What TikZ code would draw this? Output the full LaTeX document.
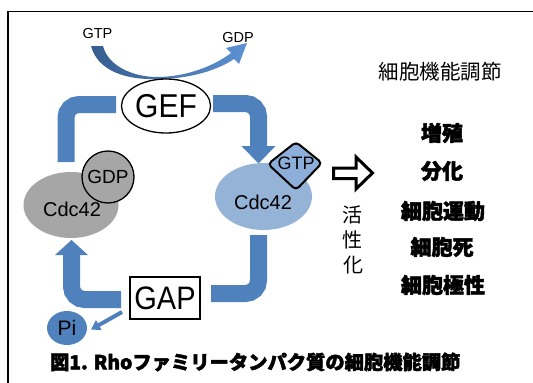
\documentclass[tikz,border=0pt]{standalone}
\usepackage{fontspec}
\setmainfont{Liberation Sans}
\newfontfamily\jp{Noto Sans CJK JP}
\newfontfamily\jpheavy[UprightFeatures={FakeBold=2.2}, BoldFeatures={FakeBold=2.2}]{Noto Sans CJK JP}
\usetikzlibrary{shapes.geometric, arrows.meta}
\definecolor{band}{HTML}{4F81BD}
\definecolor{grayfill}{HTML}{A6A6A6}
\definecolor{lightblue}{HTML}{95B3D7}
\definecolor{gtpblue}{HTML}{8EAEDA}
\definecolor{curvedark}{HTML}{365D8F}
\definecolor{curvelight}{HTML}{5D91D2}
\newcommand{\fs}[1]{\fontsize{#1}{#1}\selectfont}
\begin{document}
\begin{tikzpicture}[x=1pt,y=-1pt,
  bandline/.style={line width=17pt, draw=band, rounded corners=13pt},
  bandhead/.style={fill=band},
  piarrow/.style={line width=4pt, draw=band, -{Triangle[length=9pt, width=11pt]}},
  plain/.style={inner sep=0pt, outer sep=0pt},
  jpreg/.style={plain, font=\jp\fs{20.5}},
  jpbold/.style={plain, font=\jpheavy\bfseries\fs{21}}]
\useasboundingbox (0,0) rectangle (533,383);
% frame
\draw[line width=1.5pt] (8,383) -- (8,11.5) -- (533,11.5);

% GTP -> GDP curved arrow
\node[plain, font=\fs{14.5}] (gtptop) at (97.5,34) {GTP};
\node[plain, font=\fs{14.5}] (gdptop) at (238,37.5) {GDP};
\shade[left color=curvedark, right color=curvelight]
  (91,46) .. controls (98,72) and (128,80) .. (157,79)
  .. controls (190,79) and (218,70) .. (234,59) -- (239,64) -- (247,43) -- (226,48) -- (231,53)
  .. controls (214,66) and (186,77) .. (157,77)
  .. controls (133,77) and (108,66) .. (103,46) -- cycle;

% blue cycle bands
\coordinate (b1s) at (116,104.5); \coordinate (b1c) at (66,104.5); \coordinate (b1e) at (66,162);
\draw[bandline] (b1s) -- (b1c) -- (b1e);
\coordinate (b2s) at (213,103.5); \coordinate (b2c) at (258.5,103.5); \coordinate (b2e) at (258.5,147);
\draw[bandline] (b2s) -- (b2c) -- (b2e);
\fill[bandhead] (241.5,146) -- (275.5,146) -- (258.5,163.5) -- cycle;
\coordinate (b3s) at (258.5,235); \coordinate (b3c) at (258.5,293.5); \coordinate (b3e) at (211,293.5);
\draw[bandline] (b3s) -- (b3c) -- (b3e);
\coordinate (b4s) at (121,299.5); \coordinate (b4c) at (71.5,299.5); \coordinate (b4e) at (71.5,254);
\draw[bandline] (b4s) -- (b4c) -- (b4e);
\fill[bandhead] (55,255) -- (88,255) -- (71.5,240) -- cycle;

% GEF
\node[ellipse, draw, line width=1.3pt, fill=white, minimum width=89pt, minimum height=54pt, inner sep=0pt]
  (gef) at (166,106) {\fs{30}\scalebox{1}[1.1]{GEF}};

% Cdc42 (GDP)
\node[ellipse, fill=grayfill, minimum width=95pt, minimum height=66pt, inner sep=0pt] (cdc1) at (71,205) {};
\node[plain, font=\fs{20}] (cdc1t) at (72,209) {Cdc42};
\node[circle, draw, line width=1.3pt, fill=grayfill, minimum size=52pt, inner sep=0pt, font=\fs{19}] (gdp) at (108,177) {GDP};

% Cdc42 (GTP)
\node[ellipse, fill=lightblue, minimum width=97pt, minimum height=67pt, inner sep=0pt] (cdc2) at (263.5,196.5) {};
\node[plain, font=\fs{20}] (cdc2t) at (263,202) {Cdc42};
\draw[line width=2pt, fill=gtpblue, rounded corners=4pt] (268,164) -- (296,142) -- (322,163) -- (296,190) -- cycle;
\node[plain, font=\fs{18}] (gtp) at (296,163.5) {GTP};

% GAP and Pi
\node[draw, line width=1.2pt, fill=white, minimum width=70pt, minimum height=42pt, inner sep=0pt]
  (gap) at (165,298) {\fs{29}\scalebox{1}[1.12]{GAP}};
\node[ellipse, fill=band, minimum width=40pt, minimum height=34pt, inner sep=0pt, font=\fs{21}] (pi) at (67,328) {Pi};
\coordinate (pa) at (122,312); \coordinate (pb) at (91,329.5);
\draw[piarrow] (pa) -- (pb);

% activation arrow
\draw[line width=3pt, fill=white, miter limit=10]
  (333.5,168) -- (356,168) -- (356,157) -- (372.5,173) -- (356,189) -- (356,178.5) -- (333.5,178.5) -- cycle;
\node[jpreg, font=\jp\fs{20}] (k1) at (352.5,215) {活};
\node[jpreg, font=\jp\fs{20}] (k2) at (352.5,240) {性};
\node[jpreg, font=\jp\fs{20}] (k3) at (353.5,265) {化};

% right column
\node[jpreg] (title) at (440,72) {細胞機能調節};
\node[jpbold] (f1) at (442,133) {増殖};
\node[jpbold] (f2) at (442,171) {分化};
\node[jpbold] (f3) at (443,211) {細胞運動};
\node[jpbold] (f4) at (442,247) {細胞死};
\node[jpbold] (f5) at (443,285) {細胞極性};

% caption
\node[plain, anchor=west, font=\jpheavy\bfseries\fs{19.3}] (cap) at (50,362) {図1. Rhoファミリータンパク質の細胞機能調節};
\end{tikzpicture}
\end{document}
